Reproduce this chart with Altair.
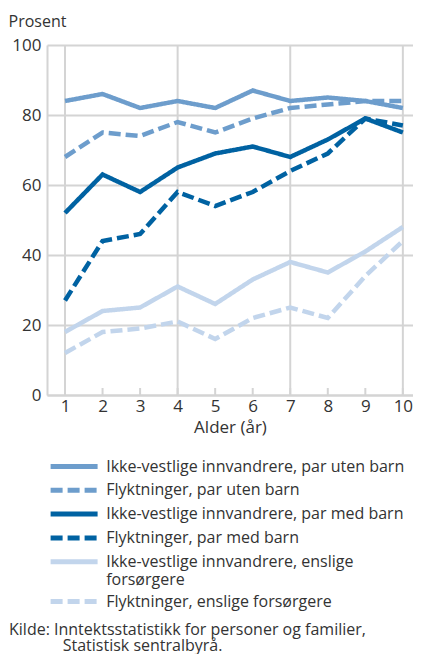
import altair as alt
import pandas as pd

years = [1, 2, 3, 4, 5, 6, 7, 8, 9, 10]
series_names = [
    "Ikke-vestlige innvandrere, par uten barn",
    "Flyktninger, par uten barn",
    "Ikke-vestlige innvandrere, par med barn",
    "Flyktninger, par med barn",
    "Ikke-vestlige innvandrere, enslige forsørgere",
    "Flyktninger, enslige forsørgere",
]
iv_uten = [84, 86, 82, 84, 82, 87, 84, 85, 84, 82]
fl_uten = [68, 75, 74, 78, 75, 79, 82, 83, 84, 84]
iv_med = [52, 63, 58, 65, 69, 71, 68, 73, 79, 75]
fl_med = [27, 44, 46, 58, 54, 58, 64, 69, 79, 77]
iv_ens = [18, 24, 25, 31, 26, 33, 38, 35, 41, 48]
fl_ens = [12, 18, 19, 21, 16, 22, 25, 22, 34, 44]
series_values = [iv_uten, fl_uten, iv_med, fl_med, iv_ens, fl_ens]
colors = ["#6d9dcc", "#6d9dcc", "#0062a2", "#0062a2", "#c2d5ec", "#c2d5ec"]
dashes = [[1, 0], [12, 5], [1, 0], [12, 5], [1, 0], [12, 5]]
grid_x = [1, 4, 7, 10]
y_ticks = [0, 20, 40, 60, 80, 100]

rows = []
for name, vals in zip(series_names, series_values):
    for yr, v in zip(years, vals):
        rows.append({"Alder": yr, "Prosent": v, "Serie": name})
df = pd.DataFrame(rows)

FONT = "Open Sans"
TXT = "#333333"
GRID = "#d4d4d4"

xscale = alt.Scale(domain=[0.52, 10.27], nice=False, zero=False)
yscale = alt.Scale(domain=[0, 100], nice=False)

vgrid = alt.Chart(pd.DataFrame({"x": grid_x})).mark_rule(
    color=GRID, strokeWidth=2
).encode(x=alt.X("x:Q", scale=xscale), y=alt.value(0), y2=alt.value(350))

ticks = alt.Chart(pd.DataFrame({"x": years, "y0": [0] * 10, "y1": [2] * 10})).mark_rule(
    color=GRID, strokeWidth=2
).encode(
    x=alt.X("x:Q", scale=xscale),
    y=alt.Y("y0:Q", scale=yscale),
    y2="y1:Q",
)

wrap_expr = (
    "datum.label == 'Ikke-vestlige innvandrere, enslige forsørgere' "
    "? ['Ikke-vestlige innvandrere, enslige', 'forsørgere'] : datum.label"
)


def make_legend():
    return alt.Legend(
        title=None,
        orient="none",
        legendX=18.6,
        legendY=413,
        direction="vertical",
        symbolType="M-4,0H4",
        symbolSize=138,
        symbolStrokeWidth=5,
        symbolFillColor="transparent",
        labelFontSize=16,
        labelOffset=23.6,
        rowPadding=2.8,
        labelLimit=400,
        labelExpr=wrap_expr,
    )


lines = alt.Chart(df).mark_line(strokeWidth=4.5, strokeCap="butt", strokeJoin="miter").encode(
    x=alt.X(
        "Alder:Q",
        scale=xscale,
        axis=alt.Axis(
            values=years,
            grid=False,
            ticks=False,
            title="Alder (år)",
            labelFontSize=17,
            titleFontSize=17,
            titleFontWeight="normal",
            labelPadding=3,
            titlePadding=5,
            domainColor=GRID,
            domainWidth=2,
        ),
    ),
    y=alt.Y(
        "Prosent:Q",
        scale=yscale,
        axis=alt.Axis(
            values=y_ticks,
            grid=True,
            gridColor=GRID,
            gridWidth=2,
            ticks=False,
            labelFontSize=17,
            labelPadding=6,
            domainColor=GRID,
            domainWidth=2,
            title="Prosent",
            titleAngle=0,
            titleAlign="left",
            titleBaseline="middle",
            titleX=-39,
            titleY=-24,
            titleFontSize=16,
            titleFontWeight="normal",
        ),
    ),
    color=alt.Color(
        "Serie:N",
        scale=alt.Scale(domain=series_names, range=colors),
        sort=series_names,
        legend=make_legend(),
    ),
    strokeDash=alt.StrokeDash(
        "Serie:N",
        scale=alt.Scale(domain=series_names, range=dashes),
        sort=series_names,
        legend=make_legend(),
    ),
)

indent = "\u200b" + "\u2007" * 5 + "\u2002"
chart = (
    alt.layer(vgrid, ticks, lines)
    .properties(
        width=366,
        height=350,
        padding={"left": 0, "top": 5, "right": 0, "bottom": 0},
        title=alt.TitleParams(
            text=["Kilde: Inntektsstatistikk for personer og familier,", indent + "Statistisk sentralbyrå."],
            orient="bottom",
            anchor="start",
            frame="group",
            dx=-38,
            offset=10,
            fontSize=16,
            fontWeight="normal",
            font=FONT,
            color=TXT,
            lineHeight=16,
        ),
    )
    .configure(font=FONT)
    .configure_view(stroke=None)
    .configure_axis(labelColor=TXT, titleColor=TXT, labelFont=FONT, titleFont=FONT)
    .configure_legend(labelColor=TXT, labelFont=FONT)
)

chart.save("out.html", embed_options={"renderer": "svg", "actions": False})
